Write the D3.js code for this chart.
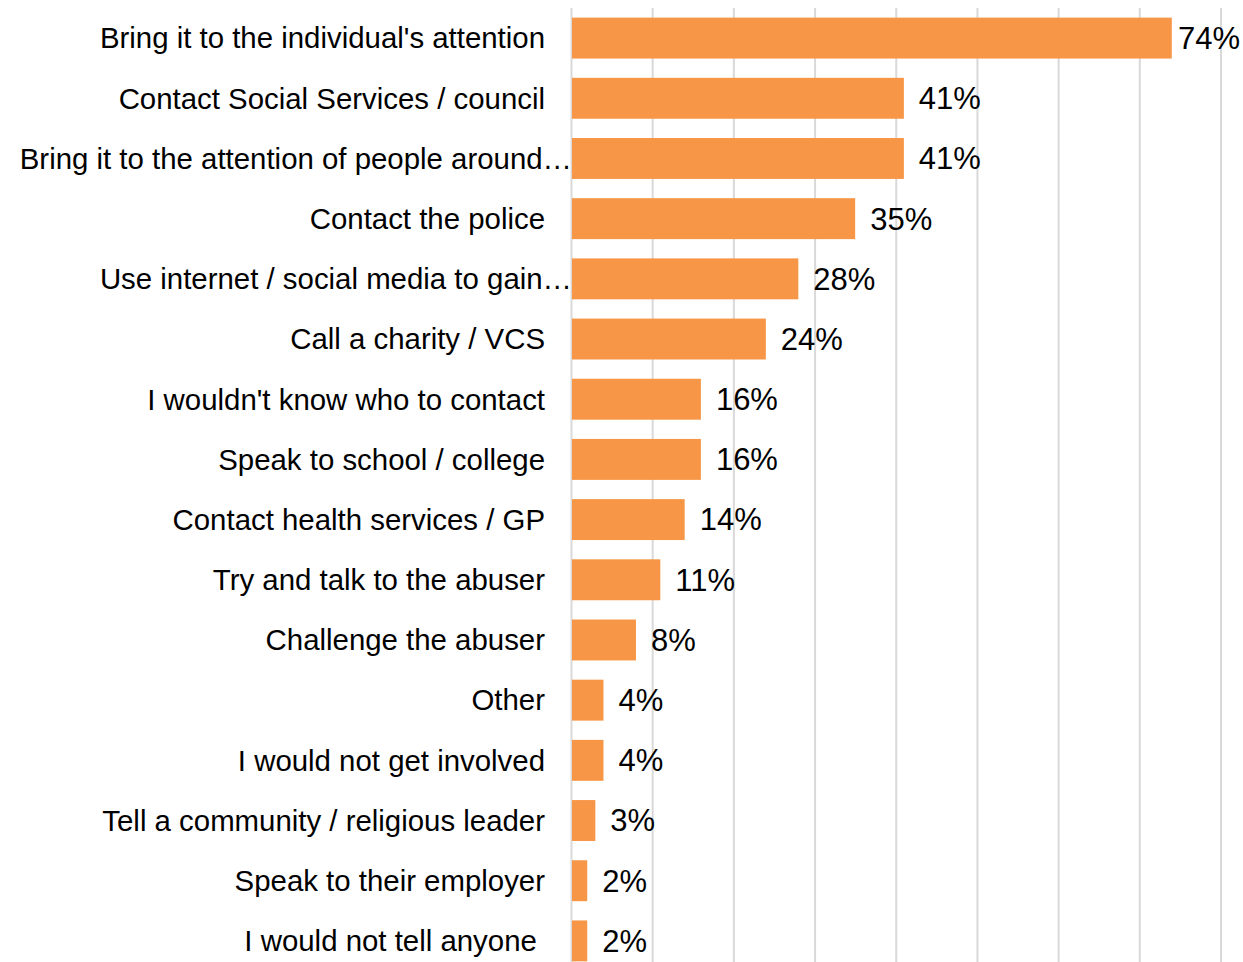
<!DOCTYPE html>
<html>
<head>
<meta charset="utf-8">
<script src="https://cdn.jsdelivr.net/npm/d3@7"></script>
<style>
  html, body { margin: 0; padding: 0; background: #fff; }
  svg { display: block; }
  text { font-family: "Liberation Sans", Arial, sans-serif; white-space: pre; }
</style>
</head>
<body>
<svg id="chart" width="1243" height="962"></svg>
<script>
const categories = [
  "Bring it to the individual's attention",
  "Contact Social Services / council",
  "Bring it to the attention of people around…",
  "Contact the police",
  "Use internet / social media to gain…",
  "Call a charity / VCS",
  "I wouldn't know who to contact",
  "Speak to school / college",
  "Contact health services / GP",
  "Try and talk to the abuser",
  "Challenge the abuser",
  "Other",
  "I would not get involved",
  "Tell a community / religious leader",
  "Speak to their employer",
  "I would not tell anyone "
];
const values = [0.74, 0.41, 0.41, 0.35, 0.28, 0.24, 0.16, 0.16, 0.14, 0.11, 0.08, 0.04, 0.04, 0.03, 0.02, 0.02];
const tickValues = [0, 0.1, 0.2, 0.3, 0.4, 0.5, 0.6, 0.7, 0.8];

const W = 1243, H = 962;
const svg = d3.select("#chart");

const x = d3.scaleLinear().domain([0, 0.8]).range([571, 1220.5]);
const y = d3.scaleBand().domain(categories).range([8, 971]).paddingInner(0.32).paddingOuter(0.16);

// gridlines
svg.append("g")
  .call(d3.axisBottom(x).tickValues(tickValues).tickSize(H).tickFormat(""))
  .call(g => g.select(".domain").remove())
  .call(g => g.selectAll(".tick line")
    .attr("y1", 8).attr("y2", H)
    .attr("stroke", "#d9d9d9").attr("stroke-width", 2));

// bars
svg.append("g").selectAll("rect")
  .data(categories)
  .join("rect")
  .attr("x", x(0) + 1)
  .attr("y", d => y(d))
  .attr("width", (d, i) => x(values[i]) - x(0) - 1)
  .attr("height", y.bandwidth())
  .attr("fill", "#F79646");

// category labels
svg.append("g").selectAll("text")
  .data(categories)
  .join("text")
  .attr("x", d => d.endsWith("…") ? x(0) + 1 : x(0) - 26)
  .attr("y", d => y(d) + y.bandwidth() / 2)
  .attr("dy", "0.35em")
  .attr("text-anchor", "end")
  .attr("font-size", 29.4)
  .attr("fill", "#000")
  .text(d => d);

// value labels
const fmt = d3.format(".0%");
svg.append("g").selectAll("text")
  .data(categories)
  .join("text")
  .attr("y", d => y(d) + y.bandwidth() / 2)
  .attr("dy", "0.35em")
  .attr("font-size", 31)
  .attr("fill", "#000")
  .text((d, i) => fmt(values[i]))
  .each(function(d, i) {
    const len = this.getComputedTextLength();
    const px = Math.min(x(values[i]) + 15, W - len - 3);
    d3.select(this).attr("x", px);
  });
</script>
</body>
</html>
